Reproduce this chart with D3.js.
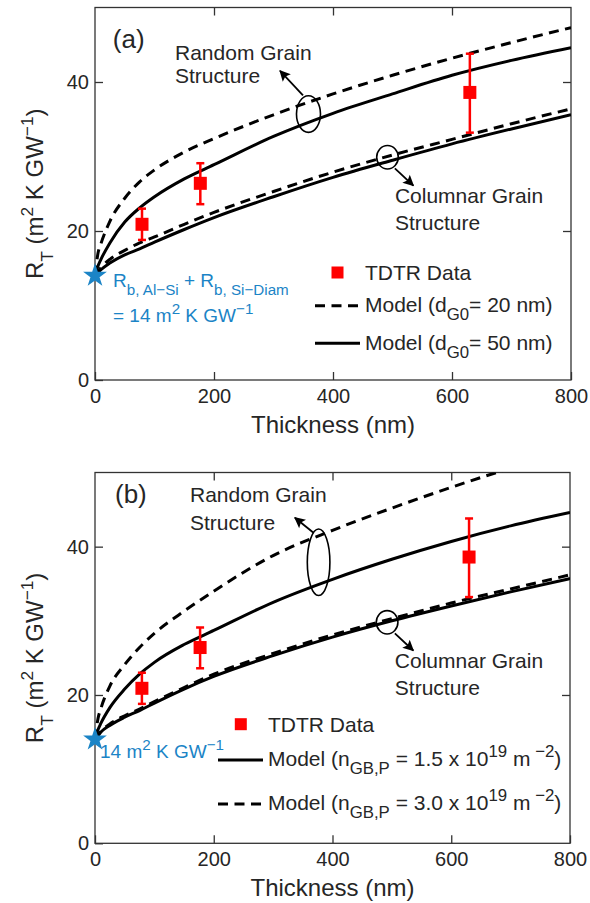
<!DOCTYPE html>
<html lang="en">
<head>
<meta charset="UTF-8">
<title>R_T vs thickness</title>
<script src="https://cdn.jsdelivr.net/npm/d3@7/dist/d3.min.js"></script>
<style>
    body { margin: 0; background: #fff; }
    svg text { font-family: Arial, "Liberation Sans", Helvetica, sans-serif; fill: #262626; }
</style>
</head>
<body>
<div id="chart"></div>
<script>
    // thickness samples (nm) for the model curves
    const thickness = [0, 5, 10, 25, 50, 75, 100, 150, 200, 300, 400, 500, 600, 700, 800];

    // panel (a): d_G0 = 20 nm (dashed) / 50 nm (solid)
    const aRandom20 = [14, 17.0, 18.3, 21.3, 24.4, 26.6, 28.2, 30.6, 32.4, 35.6, 38.4, 40.9, 43.2, 45.3, 47.3];
    const aRandom50 = [14, 15.3, 16.2, 18.4, 21.2, 23.1, 24.6, 27.0, 28.9, 32.7, 35.8, 38.4, 40.9, 42.9, 44.6];
    const aColumnar20 = [14, 14.6, 15.1, 16.2, 17.4, 18.4, 19.2, 20.9, 22.5, 25.3, 27.9, 30.2, 32.3, 34.4, 36.4];
    const aColumnar50 = [14, 14.4, 14.8, 15.7, 16.8, 17.6, 18.5, 20.2, 21.8, 24.6, 27.2, 29.5, 31.7, 33.7, 35.6];

    // panel (b): n_GB,P = 1.5e19 (solid) / 3.0e19 (dashed)
    const bRandom15 = [14, 15.3, 16.2, 18.3, 20.8, 22.8, 24.4, 26.8, 28.7, 32.5, 35.6, 38.3, 40.7, 42.8, 44.6];
    const bRandom30 = [14, 16.8, 18.2, 21.2, 24.1, 26.4, 28.3, 31.3, 34.0, 38.8, 42.2, 45.2, 48.0, 50.6, 53.0];
    const bColumnar15 = [14, 14.5, 15.0, 15.9, 17.0, 17.9, 18.9, 20.8, 22.5, 25.3, 27.8, 30.0, 32.0, 33.9, 35.7];
    const bColumnar30 = [14, 14.6, 15.1, 16.1, 17.2, 18.1, 19.1, 21.0, 22.8, 25.6, 28.1, 30.3, 32.4, 34.3, 36.2];

    // TDTR measurements
    const tdtrThickness = [79, 177, 630];
    const tdtrR = [20.9, 26.4, 38.6];
    const tdtrLow = [18.8, 23.6, 33.2];
    const tdtrHigh = [23.0, 29.1, 43.8];

    const xTicks = [0, 200, 400, 600, 800];
    const yTicks = [0, 20, 40];

    const blue = "#1b84c6";
    const dash = "10,6.5";

    svg = d3.select("#chart")
        .append("svg")
        .attr("width", 590)
        .attr("height", 903);

    defs = svg.append("defs");
    defs.append("marker")
        .attr("id", "arrow")
        .attr("viewBox", "0 0 10 10")
        .attr("refX", 9).attr("refY", 5)
        .attr("markerWidth", 12).attr("markerHeight", 11)
        .attr("markerUnits", "userSpaceOnUse")
        .attr("orient", "auto")
        .append("path")
        .attr("d", "M0,0 L10,5 L0,10 L2,5 Z")
        .attr("fill", "#000");

    // text with sub / superscripts
    function rich(textSel, parts, fs, scale) {
        scale = scale || 0.72;
        let prev = 0;
        parts.forEach(function (p) {
            const kind = p[1];
            const shift = kind === "sub" ? fs * 0.4 : kind === "sup" ? -fs * 0.42 : 0;
            textSel.append("tspan")
                .attr("dy", shift - prev)
                .attr("font-size", kind ? fs * scale : fs)
                .text(p[0]);
            prev = shift;
        });
    }

    function drawPanel(p) {
        const x = d3.scaleLinear().domain([0, 800]).range([p.left, p.right]);
        const y = d3.scaleLinear().domain([0, 50]).range([p.bottom, p.top]);
        const g = svg.append("g");

        defs.append("clipPath").attr("id", "clip" + p.id)
            .append("rect")
            .attr("x", p.left).attr("y", p.top)
            .attr("width", p.right - p.left).attr("height", p.bottom - p.top);

        // axes, ticks inward
        g.append("g").attr("transform", "translate(0," + p.bottom + ")")
            .call(d3.axisBottom(x).tickValues(xTicks).tickSize(-8).tickSizeOuter(0).tickPadding(9));
        g.append("g").attr("transform", "translate(" + p.left + ",0)")
            .call(d3.axisLeft(y).tickValues(yTicks).tickSize(-8).tickSizeOuter(0).tickPadding(6));
        g.append("g").attr("transform", "translate(0," + p.top + ")")
            .call(d3.axisTop(x).tickValues(xTicks.slice(1, -1)).tickSize(-8).tickSizeOuter(0).tickFormat(""));
        g.append("g").attr("transform", "translate(" + p.right + ",0)")
            .call(d3.axisRight(y).tickValues(yTicks.slice(1)).tickSize(-8).tickSizeOuter(0).tickFormat(""));
        g.selectAll(".domain").remove();
        g.selectAll(".tick line").attr("stroke", "#333").attr("stroke-width", 1.3);
        g.selectAll(".tick text").attr("font-size", 20).attr("fill", "#262626")
            .attr("font-family", "Arial, 'Liberation Sans', sans-serif");

        g.append("rect")
            .attr("x", p.left).attr("y", p.top)
            .attr("width", p.right - p.left).attr("height", p.bottom - p.top)
            .attr("fill", "none").attr("stroke", "#333").attr("stroke-width", 1.3);

        // axis titles
        g.append("text")
            .attr("x", (p.left + p.right) / 2).attr("y", p.bottom + 53)
            .attr("text-anchor", "middle").attr("font-size", 24)
            .text("Thickness (nm)");
        const yl = g.append("text")
            .attr("transform", "translate(43," + (p.top + p.bottom) / 2 + ") rotate(-90)")
            .attr("text-anchor", "middle");
        rich(yl, [["R"], ["T", "sub"], [" (m"], ["2", "sup"], [" K GW"], ["\u22121", "sup"], [")"]], 24);

        // model curves
        const line = d3.line()
            .x(function (d, i) { return x(thickness[i]); })
            .y(function (d) { return y(d); })
            .curve(d3.curveMonotoneX);
        const curves = g.append("g").attr("clip-path", "url(#clip" + p.id + ")");
        p.series.forEach(function (s) {
            curves.append("path")
                .attr("d", line(s.values))
                .attr("fill", "none")
                .attr("stroke", "#000")
                .attr("stroke-width", 3)
                .attr("stroke-dasharray", s.dashed ? dash : null);
        });

        // TDTR data with error bars
        tdtrThickness.forEach(function (t, i) {
            g.append("line")
                .attr("x1", x(t)).attr("x2", x(t))
                .attr("y1", y(tdtrLow[i])).attr("y2", y(tdtrHigh[i]))
                .attr("stroke", "#f00").attr("stroke-width", 2.5);
            [tdtrLow[i], tdtrHigh[i]].forEach(function (v) {
                g.append("line")
                    .attr("x1", x(t) - 4).attr("x2", x(t) + 4)
                    .attr("y1", y(v)).attr("y2", y(v))
                    .attr("stroke", "#f00").attr("stroke-width", 2.5);
            });
            g.append("rect")
                .attr("x", x(t) - 6.5).attr("y", y(tdtrR[i]) - 6.5)
                .attr("width", 13).attr("height", 13)
                .attr("fill", "#f00");
        });

        // star at zero thickness
        g.append("path")
            .attr("d", d3.symbol(d3.symbolStar).size(175)())
            .attr("transform", "translate(" + x(0) + "," + y(14) + ")")
            .attr("fill", blue);

        // panel letter
        g.append("text").attr("x", x(p.letter[0])).attr("y", y(p.letter[1]))
            .attr("font-size", 26).text(p.letter[2]);

        // annotations
        p.notes.forEach(function (n) {
            const t = g.append("text").attr("font-size", 21);
            t.append("tspan").attr("x", x(n.x)).attr("y", y(n.y1)).text(n.line1);
            t.append("tspan").attr("x", x(n.x)).attr("y", y(n.y2)).text("Structure");
            g.append("ellipse")
                .attr("cx", x(n.ex)).attr("cy", y(n.ey))
                .attr("rx", n.rx).attr("ry", n.ry)
                .attr("fill", "none").attr("stroke", "#000").attr("stroke-width", 1.6);
            g.append("line")
                .attr("x1", x(n.a0[0])).attr("y1", y(n.a0[1]))
                .attr("x2", x(n.a1[0])).attr("y2", y(n.a1[1]))
                .attr("stroke", "#000").attr("stroke-width", 1.8)
                .attr("marker-end", "url(#arrow)");
        });

        // blue label
        p.blue.forEach(function (b) {
            const t = g.append("text").attr("x", b.x).attr("y", b.y).style("fill", blue);
            rich(t, b.parts, 19, 0.8);
        });

        // legend
        const lg = p.legend;
        g.append("rect")
            .attr("x", lg.sq[0] - 6).attr("y", lg.sq[1] - 6)
            .attr("width", 12).attr("height", 12).attr("fill", "#f00");
        g.append("text").attr("x", lg.tx).attr("y", lg.ty[0]).attr("font-size", 21).text("TDTR Data");
        lg.rows.forEach(function (r, i) {
            g.append("line")
                .attr("x1", lg.lx[0]).attr("x2", lg.lx[1])
                .attr("y1", lg.ly[i]).attr("y2", lg.ly[i])
                .attr("stroke", "#000").attr("stroke-width", 3)
                .attr("stroke-dasharray", r.dashed ? "10,6.5" : null);
            const t = g.append("text").attr("x", lg.tx).attr("y", lg.ty[i + 1]);
            rich(t, r.parts, 21, 0.8);
        });
    }

    drawPanel({
        id: "a", left: 95, right: 571, top: 7.5, bottom: 380,
        letter: [30, 44.6, "(a)"],
        series: [
            {values: aRandom20, dashed: true},
            {values: aRandom50, dashed: false},
            {values: aColumnar20, dashed: true},
            {values: aColumnar50, dashed: false}
        ],
        notes: [
            {line1: "Random Grain", x: 134.5, y1: 43.0, y2: 39.8,
                ex: 358.8, ey: 35.7, rx: 12, ry: 18.3, a0: [349.6, 38.2], a1: [311, 41.5]},
            {line1: "Columnar Grain", x: 504, y1: 23.7, y2: 20.1,
                ex: 491.6, ey: 29.9, rx: 10.8, ry: 11.7, a0: [504, 28.4], a1: [535, 26.1]}
        ],
        blue: [
            {x: 113, y: 287, parts: [["R"], ["b, Al\u2212Si", "sub"], [" + R"], ["b, Si\u2212Diam", "sub"]]},
            {x: 113, y: 322, parts: [["= 14 m"], ["2", "sup"], [" K GW"], ["\u22121", "sup"]]}
        ],
        legend: {
            sq: [337.5, 272.5], tx: 365, ty: [280, 312, 350],
            lx: [315, 360], ly: [305.7, 343.3],
            rows: [
                {dashed: true, parts: [["Model (d"], ["G0", "sub"], ["= 20 nm)"]]},
                {dashed: false, parts: [["Model (d"], ["G0", "sub"], ["= 50 nm)"]]}
            ]
        }
    });

    drawPanel({
        id: "b", left: 95, right: 570, top: 472.5, bottom: 843.3,
        letter: [33.7, 45.9, "(b)"],
        series: [
            {values: bRandom30, dashed: true},
            {values: bRandom15, dashed: false},
            {values: bColumnar30, dashed: true},
            {values: bColumnar15, dashed: false}
        ],
        notes: [
            {line1: "Random Grain", x: 160, y1: 46.0, y2: 42.3,
                ex: 376.6, ey: 37.9, rx: 11.3, ry: 33.3, a0: [367.5, 41.9], a1: [336.7, 43.9]},
            {line1: "Columnar Grain", x: 505, y1: 23.6, y2: 20.0,
                ex: 492, ey: 29.8, rx: 10.8, ry: 11.7, a0: [505, 28.3], a1: [536, 26.0]}
        ],
        blue: [
            {x: 100, y: 758, parts: [["14 m"], ["2", "sup"], [" K GW"], ["\u22121", "sup"]]}
        ],
        legend: {
            sq: [240.8, 724.2], tx: 268, ty: [732, 766, 810],
            lx: [218, 263], ly: [760, 804],
            rows: [
                {dashed: false, parts: [["Model (n"], ["GB,P", "sub"], [" = 1.5 x 10"], ["19", "sup"], [" m"], [" \u22122", "sup"], [")"]]},
                {dashed: true, parts: [["Model (n"], ["GB,P", "sub"], [" = 3.0 x 10"], ["19", "sup"], [" m"], [" \u22122", "sup"], [")"]]}
            ]
        }
    });
</script>
</body>
</html>
